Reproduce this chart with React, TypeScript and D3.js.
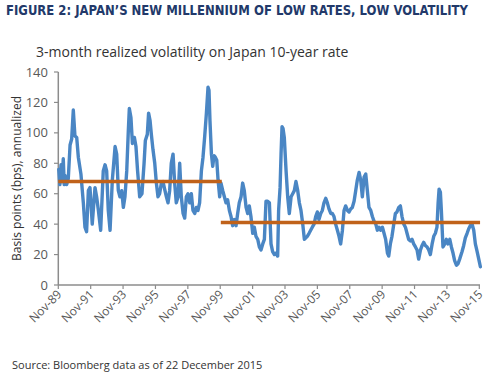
import React from "react";
import * as d3 from "d3";

const dates = [
  1989.86, 1989.93, 1990.0, 1990.07, 1990.14, 1990.2, 1990.25, 1990.35, 1990.45, 1990.56, 1990.66, 1990.76, 1990.86, 1990.97,
  1991.07, 1991.23, 1991.38, 1991.48, 1991.58, 1991.69, 1991.79, 1991.93, 1992.1, 1992.2, 1992.31,
  1992.45, 1992.61, 1992.72, 1992.82, 1992.92, 1993.03, 1993.17, 1993.34, 1993.44, 1993.54, 1993.64,
  1993.75, 1993.85, 1993.95, 1994.06, 1994.16, 1994.22, 1994.32, 1994.41, 1994.53, 1994.63, 1994.73,
  1994.86, 1995.0, 1995.13, 1995.21, 1995.33, 1995.41, 1995.5, 1995.58, 1995.68, 1995.79, 1995.89,
  1995.99, 1996.09, 1996.2, 1996.3, 1996.4, 1996.51, 1996.61, 1996.71, 1996.81, 1996.92, 1997.02,
  1997.12, 1997.23, 1997.33, 1997.43, 1997.54, 1997.64, 1997.74, 1997.84, 1997.95, 1998.05, 1998.15,
  1998.26, 1998.36, 1998.46, 1998.56, 1998.67, 1998.77, 1998.87, 1998.98, 1999.08, 1999.14, 1999.2,
  1999.29, 1999.37, 1999.45, 1999.53, 1999.62, 1999.7, 1999.8, 1999.88, 1999.99, 2000.09, 2000.19,
  2000.29, 2000.4, 2000.5, 2000.6, 2000.71, 2000.81, 2000.91, 2001.01, 2001.12, 2001.22, 2001.32,
  2001.43, 2001.53, 2001.63, 2001.73, 2001.84, 2001.94, 2002.04, 2002.15, 2002.25, 2002.35, 2002.46,
  2002.56, 2002.66, 2002.76, 2002.87, 2002.97, 2003.07, 2003.18, 2003.28, 2003.38, 2003.44, 2003.53,
  2003.59, 2003.65, 2003.71, 2003.79, 2003.9, 2004.0, 2004.1, 2004.21, 2004.31, 2004.41, 2004.51,
  2004.62, 2004.72, 2004.82, 2004.93, 2005.03, 2005.21, 2005.32, 2005.42, 2005.52, 2005.63, 2005.73,
  2005.83, 2005.93, 2006.04, 2006.14, 2006.24, 2006.35, 2006.45, 2006.55, 2006.66, 2006.76, 2006.86,
  2006.96, 2007.07, 2007.17, 2007.27, 2007.38, 2007.48, 2007.58, 2007.69, 2007.79, 2007.89, 2007.99,
  2008.1, 2008.2, 2008.3, 2008.41, 2008.51, 2008.61, 2008.72, 2008.82, 2008.92, 2009.02, 2009.13,
  2009.23, 2009.33, 2009.44, 2009.54, 2009.64, 2009.74, 2009.85, 2009.95, 2010.05, 2010.16, 2010.24,
  2010.34, 2010.44, 2010.55, 2010.65, 2010.75, 2010.86, 2010.96, 2011.06, 2011.17, 2011.27, 2011.37,
  2011.47, 2011.58, 2011.68, 2011.78, 2011.89, 2011.99, 2012.09, 2012.2, 2012.3, 2012.4, 2012.5,
  2012.61, 2012.71, 2012.81, 2012.92, 2013.02, 2013.12, 2013.22, 2013.29, 2013.35, 2013.43, 2013.49,
  2013.59, 2013.7, 2013.8, 2013.9, 2014.01, 2014.11, 2014.21, 2014.31, 2014.42, 2014.52, 2014.62,
  2014.77, 2014.87, 2014.97, 2015.08, 2015.18, 2015.28, 2015.39, 2015.49, 2015.59, 2015.7, 2015.8,
  2015.9,
];

const vol = [
  76, 66, 79, 68, 83, 66, 72, 66, 70, 92, 96, 115, 98, 97,
  84, 73, 54, 38, 35, 62, 64, 40, 64, 58, 49,
  36, 75, 79, 75, 49, 36, 69, 91, 86, 62, 58,
  62, 51, 58, 75, 102, 116, 110, 93, 97, 91, 75,
  58, 60, 80, 95, 99, 113, 108, 99, 89, 80, 67,
  58, 60, 67, 68, 63, 58, 54, 62, 80, 86, 67,
  54, 58, 80, 58, 47, 44, 58, 60, 54, 60, 49,
  47, 51, 49, 54, 75, 84, 97, 113, 130, 128, 108,
  86, 78, 85, 84, 82, 69, 58, 67, 62, 58, 54,
  56, 49, 45, 39, 43, 39, 47, 54, 58, 67, 62,
  51, 47, 52, 45, 34, 38, 32, 30, 25, 23, 27,
  30, 55, 55, 54, 27, 22, 20, 21, 19, 49, 64,
  86, 104, 103, 97, 75, 58, 47, 58, 60, 62, 68,
  62, 54, 49, 40, 30, 32, 34, 36, 38, 40, 45,
  48, 43, 47, 49, 54, 57, 54, 50, 47, 47, 45,
  40, 36, 32, 27, 36, 49, 52, 49, 48, 50, 51,
  55, 62, 69, 74, 69, 58, 71, 73, 62, 51, 49,
  45, 42, 40, 36, 38, 36, 38, 34, 30, 21, 19,
  27, 32, 40, 47, 48, 51, 52, 45, 40, 38, 34,
  30, 29, 30, 27, 25, 23, 17, 23, 26, 28, 26,
  25, 23, 20, 27, 32, 34, 38, 54, 63, 61, 49,
  25, 27, 30, 27, 30, 25, 21, 16, 13, 14, 17,
  22, 26, 31, 34, 37, 39, 40, 36, 27, 22, 17,
  12,
];

const avgStart = [1989.83, 1999.87];
const avgEnd = [1999.93, 2015.88];
const avgValue = [68, 41];

const xTickLabels = ["Nov-89", "Nov-91", "Nov-93", "Nov-95", "Nov-97", "Nov-99", "Nov-01", "Nov-03", "Nov-05", "Nov-07", "Nov-09", "Nov-11", "Nov-13", "Nov-15"];
const xTickYears = xTickLabels.map((l) => 1900 + (+l.slice(4) < 50 ? 100 : 0) + +l.slice(4) + 10 / 12);
const yTicks = [0, 20, 40, 60, 80, 100, 120, 140];

const title = "FIGURE 2: JAPAN\u2019S NEW MILLENNIUM OF LOW RATES, LOW VOLATILITY";
const subtitle = "3-month realized volatility on Japan 10-year rate";
const yLabel = "Basis points (bps), annualized";
const source = "Source: Bloomberg data as of 22 December 2015";

export default function App() {
  const x = d3.scaleLinear().domain([1989 + 10 / 12, 2015 + 10 / 12]).range([58.3, 479.3]);
  const y = d3.scaleLinear().domain([0, 140]).range([285, 72]);
  const pts = dates.map((d, i) => [d, vol[i]] as [number, number]);
  const line = d3.line<[number, number]>().x((d) => x(d[0])).y((d) => y(d[1]));
  const font = "'Open Sans', 'Noto Sans', sans-serif";
  const axisColor = "#8c8c8c";
  const tickText = "#595959";
  return (
    <svg width={490} height={375} style={{ position: "absolute", left: 0, top: 0, background: "#fff" }} fontFamily={font}>
      <text x={6} y={15} fontSize={13.5} fontWeight={700} fill="#22396a" fontFamily="'DejaVu Sans Condensed', 'Liberation Sans Narrow', sans-serif" textLength={462} lengthAdjust="spacingAndGlyphs">
        {title}
      </text>
      <text x={36} y={57} fontSize={14} fill="#333">{subtitle}</text>
      <text transform={`translate(21,${(72 + 285) / 2}) rotate(-90)`} textAnchor="middle" fontSize={12} fill="#333">
        {yLabel}
      </text>
      {yTicks.map((t) => (
        <g key={t}>
          <line x1={54} x2={58.3} y1={y(t)} y2={y(t)} stroke={axisColor} strokeWidth={1.2} />
          <text x={48} y={y(t)} dy="0.35em" textAnchor="end" fontSize={13} fill={tickText}>{t}</text>
        </g>
      ))}
      {xTickYears.map((t, i) => (
        <g key={i}>
          <line x1={x(t)} x2={x(t)} y1={285} y2={289} stroke={axisColor} strokeWidth={1.2} />
          <text transform={`translate(${x(t) - 1},${290}) rotate(-45)`} textAnchor="end" dy="0.6em" fontSize={12} fill={tickText}>
            {xTickLabels[i]}
          </text>
        </g>
      ))}
      <line x1={58.3} x2={58.3} y1={72} y2={285} stroke={axisColor} strokeWidth={1.5} />
      <line x1={58.3} x2={480} y1={285} y2={285} stroke={axisColor} strokeWidth={1.5} />
      <path d={line(pts) ?? ""} fill="none" stroke="#4a86c4" strokeWidth={3.4} strokeLinejoin="round" strokeLinecap="round" />
      {avgValue.map((v, i) => (
        <line key={i} x1={x(avgStart[i])} x2={x(avgEnd[i])} y1={y(v)} y2={y(v)} stroke="#c0621a" strokeWidth={3.5} />
      ))}
      <text x={12} y={369} fontSize={11} fill="#333">{source}</text>
    </svg>
  );
}
